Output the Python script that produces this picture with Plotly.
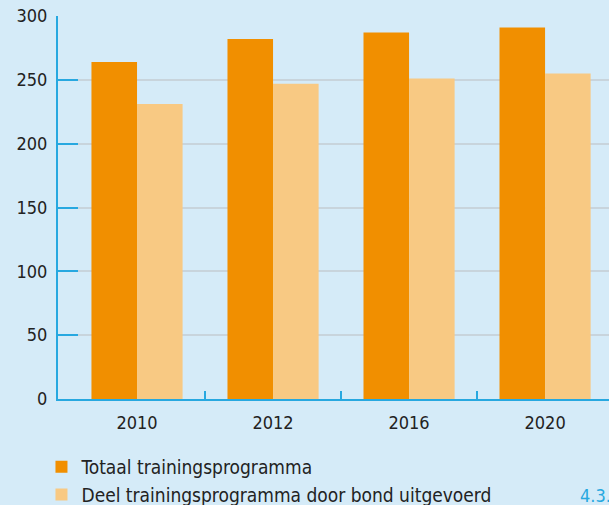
import plotly.graph_objects as go

years = ["2010", "2012", "2016", "2020"]
totaal = [264, 282, 287, 291]
deel = [231, 247, 251, 255]
name_totaal = "Totaal trainingsprogramma"
name_deel = "Deel trainingsprogramma door bond uitgevoerd"
y_ticks = [0, 50, 100, 150, 200, 250, 300]

BG = "#d5ebf8"
BLUE = "#27a8e0"
FAM = "DejaVu Sans Condensed, sans-serif"
FONT = dict(family=FAM, size=18, color="#222222")

fig = go.Figure()
fig.add_trace(go.Bar(x=years, y=totaal, name=name_totaal, marker=dict(color="#f18f00", line=dict(width=0))))
fig.add_trace(go.Bar(x=years, y=deel, name=name_deel, marker=dict(color="#f8c983", line=dict(width=0))))
# invisible trace to anchor the boundary-tick axis
fig.add_trace(go.Scatter(x=[0], y=[0], xaxis="x2", mode="markers", marker=dict(opacity=0), showlegend=False, hoverinfo="skip"))

fig.update_layout(
    width=609, height=505,
    paper_bgcolor=BG, plot_bgcolor=BG,
    margin=dict(l=58, r=0, t=16, b=106, autoexpand=False),
    font=FONT,
    barmode="group", bargap=0.33, bargroupgap=0,
    showlegend=True,
    legend=dict(orientation="v", x=-0.03, xanchor="left", yref="container", y=0.113, yanchor="top",
                bgcolor="rgba(0,0,0,0)", font=dict(size=19), tracegroupgap=0, itemsizing="constant",
                traceorder="normal"),
    xaxis=dict(type="category", range=[-0.581, 3.47], showgrid=False, showline=True,
               linecolor=BLUE, linewidth=2, ticks="", tickfont=dict(size=18), zeroline=False,
               ticklabelstandoff=6),
    xaxis2=dict(overlaying="x", anchor="y", side="bottom", range=[-0.581, 3.47], tickvals=[0.5, 1.5, 2.5],
                ticks="inside", ticklen=8, tickwidth=2, tickcolor=BLUE, showticklabels=False,
                showgrid=False, showline=False, zeroline=False),
    yaxis=dict(range=[0, 300], tickvals=y_ticks, showgrid=True, gridcolor="#c8d4dc", gridwidth=2,
               showline=True, linecolor=BLUE, linewidth=2, ticks="inside", ticklen=20, tickwidth=2,
               tickcolor=BLUE, zeroline=False, ticklabelstandoff=5, tickfont=dict(size=18)),
    annotations=[dict(text="4.3.6", xref="paper", yref="paper", x=0.943, y=-0.253, xanchor="left",
                      yanchor="middle", showarrow=False, font=dict(size=18, color=BLUE))],
)

fig.write_html("out.html", config={"displayModeBar": False},
               post_script="document.body.style.margin='0';")
